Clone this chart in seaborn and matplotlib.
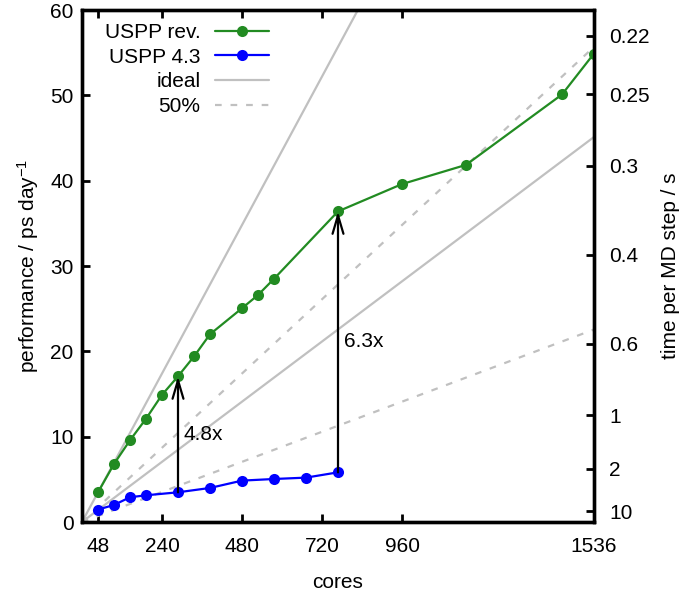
import numpy as np
import matplotlib
matplotlib.use('Agg')
import matplotlib.pyplot as plt
import seaborn as sns

# Data
cores_rev = [48, 96, 144, 192, 240, 288, 336, 384, 480, 528, 576, 768, 960, 1152, 1440, 1536]
perf_rev = [3.48, 6.8, 9.58, 12.1, 14.9, 17.07, 19.4, 22.0, 25.05, 26.6, 28.5, 36.4, 39.6, 41.85, 50.1, 54.9]

cores_43 = [48, 96, 144, 192, 288, 384, 480, 576, 672, 768]
perf_43 = [1.45, 2.0, 2.9, 3.13, 3.48, 3.99, 4.85, 5.04, 5.2, 5.82]

# ideal scaling references (performance at 48 cores)
ideal_ref = [3.48, 1.41]

xticks = [48, 240, 480, 720, 960, 1536]
yticks = [0, 10, 20, 30, 40, 50, 60]
time_ticks = [0.22, 0.25, 0.3, 0.4, 0.6, 1, 2, 10]
time_labels = ['0.22', '0.25', '0.3', '0.4', '0.6', '1', '2', '10']
K = 12.53  # time per step = K / performance

# speedup arrows
arrow_cores = [288, 768]
arrow_labels = ['4.8x', '6.3x']

green = '#228b22'
blue = '#0000ff'
gray = '#c0c0c0'

sns.set_style('ticks')
plt.rcParams['font.family'] = ['Liberation Sans', 'DejaVu Sans']
plt.rcParams['font.size'] = 15
plt.rcParams['mathtext.default'] = 'regular'
for key in ['text.color', 'axes.labelcolor', 'xtick.color', 'ytick.color', 'axes.edgecolor']:
    plt.rcParams[key] = 'black'

fig = plt.figure(figsize=(6.88, 5.94), dpi=100)
ax = fig.add_axes([82 / 688, 1 - 522 / 594, (594 - 82) / 688, 512 / 594])

# ideal and 50% lines
xline = np.array([0, 1536])
for i, ref in enumerate(ideal_ref):
    sns.lineplot(x=xline, y=ref / 48 * xline, color=gray, linewidth=1.6, ax=ax,
                 label='ideal' if i == 0 else None, zorder=1)
    l = sns.lineplot(x=xline, y=0.5 * ref / 48 * xline, color=gray, linewidth=1.6, ax=ax,
                     label='50%' if i == 0 else None, zorder=1)
    l.lines[-1].set_dashes((3, 4))

sns.lineplot(x=cores_rev, y=perf_rev, color=green, marker='o', markersize=8,
             markeredgewidth=0, linewidth=1.6, ax=ax, label='USPP rev.', zorder=3)
sns.lineplot(x=cores_43, y=perf_43, color=blue, marker='o', markersize=8,
             markeredgewidth=0, linewidth=1.6, ax=ax, label='USPP 4.3', zorder=3)

# arrows between the two series
for c, lab in zip(arrow_cores, arrow_labels):
    y_hi = perf_rev[cores_rev.index(c)]
    y_lo = perf_43[cores_43.index(c)]
    ax.annotate('', xy=(c, y_hi), xytext=(c, y_lo),
                arrowprops=dict(arrowstyle='->,head_length=0.95,head_width=0.28',
                                color='black', lw=1.6, shrinkA=0, shrinkB=0,
                                mutation_scale=14), zorder=4)
    ax.annotate(lab, xy=(c, (y_hi + y_lo) / 2), xytext=(4, 0),
                textcoords='offset points', va='center', ha='left')

ax.set_xlim(0, 1536)
ax.set_ylim(0, 60)
ax.set_xticks(xticks)
ax.set_yticks(yticks)
ax.set_xlabel('cores', labelpad=12)
ax.set_ylabel('performance / ps day$^{-1}$', labelpad=7)

ax.tick_params(axis='both', direction='in', length=6, width=2, top=True, right=False)
ax.tick_params(axis='x', pad=11)
ax.tick_params(axis='y', pad=6)

# right axis: time per MD step
ax2 = ax.twinx()
ax2.set_ylim(0, 60)
ax2.set_yticks([K / t for t in time_ticks])
ax2.set_yticklabels(time_labels)
ax2.tick_params(axis='y', direction='in', length=6, width=2, pad=11)
ax2.set_ylabel('time per MD step / s', labelpad=8)

for a in (ax, ax2):
    for s in a.spines.values():
        s.set_visible(True)
        s.set_linewidth(2.4)

# legend in desired order
handles, labels = ax.get_legend_handles_labels()
order = ['USPP rev.', 'USPP 4.3', 'ideal', '50%']
hmap = dict(zip(labels, handles))
ax.legend([hmap[k] for k in order], order, loc='upper left', bbox_to_anchor=(0.012, 1.007),
          frameon=False, markerfirst=False, handlelength=2.6, handletextpad=0.7,
          labelspacing=0.27, borderaxespad=0.4)

fig.savefig('out.png', dpi=100)
